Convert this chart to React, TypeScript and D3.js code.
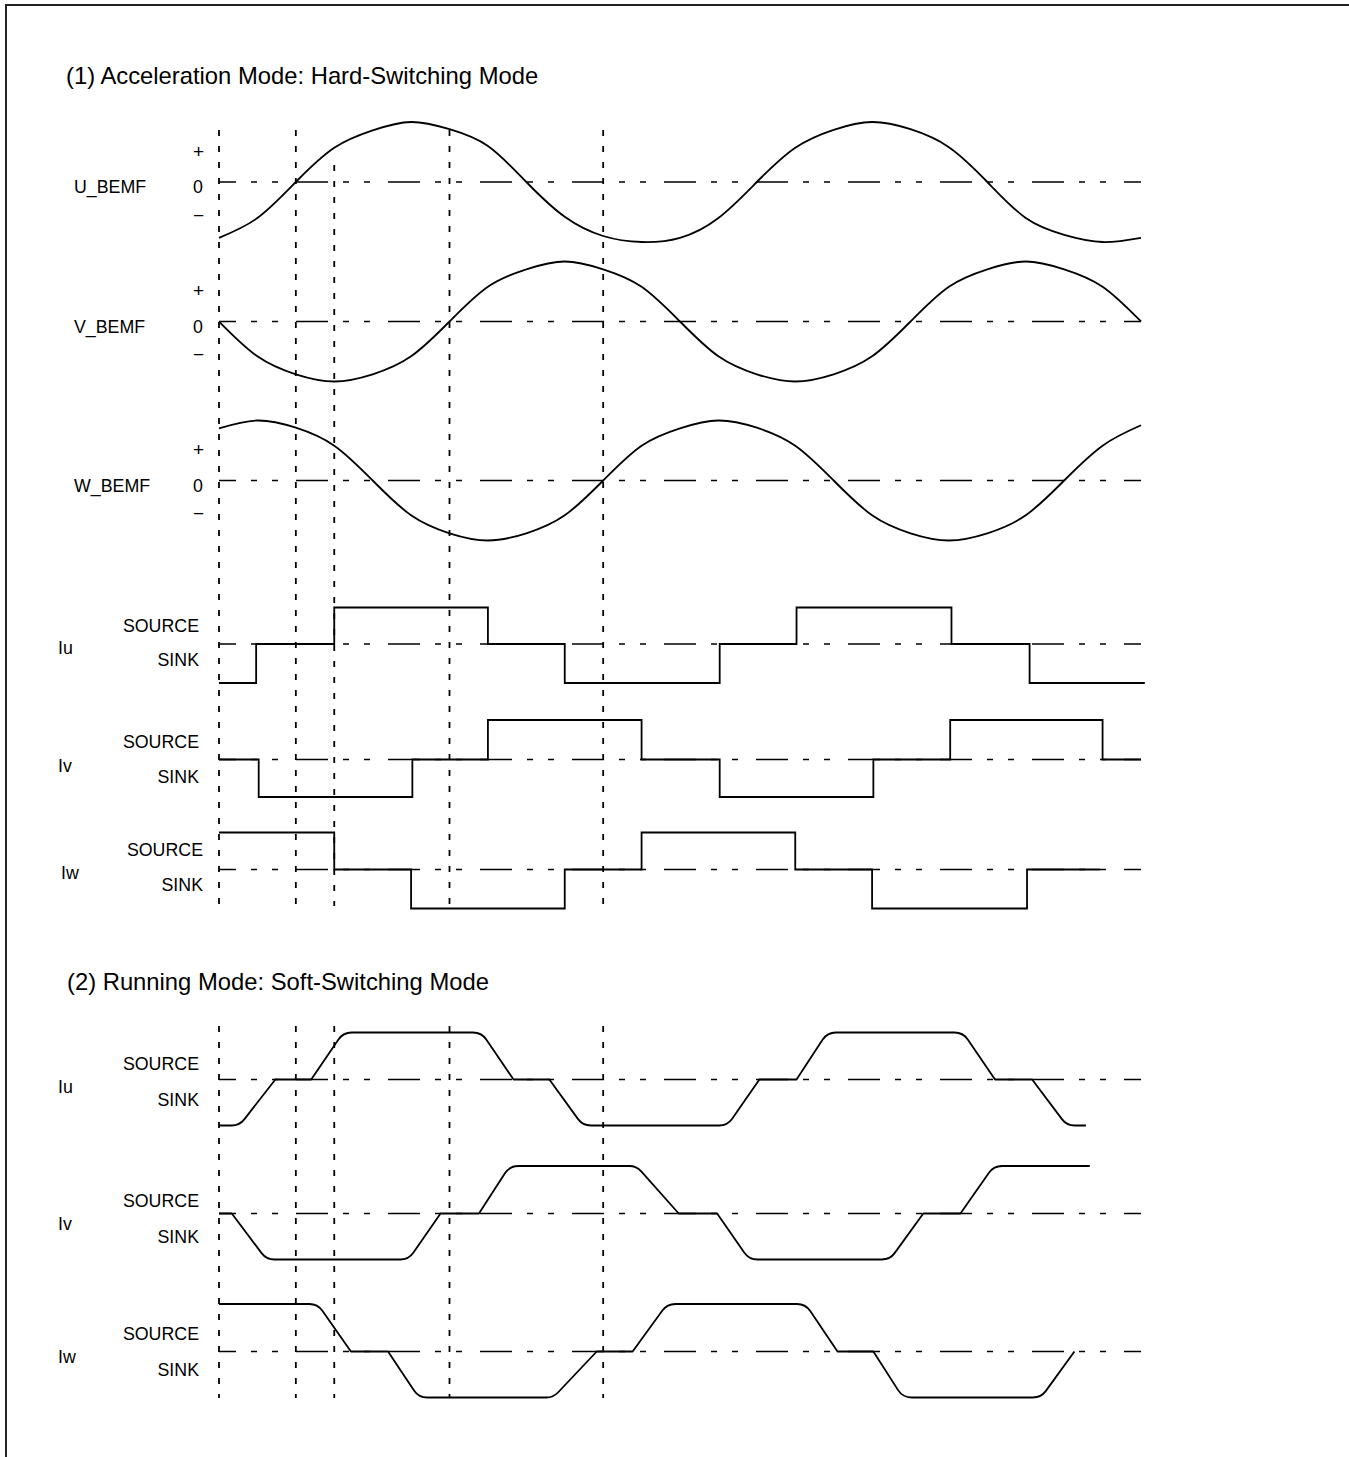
import * as d3 from "d3";
import { useEffect, useRef } from "react";

const WIDTH = 1349;
const HEIGHT = 1457;

// time axis: electrical angle in degrees
const angleDomain: [number, number] = [0, 720];
const markerAngles = [0, 60, 90, 180, 300];

// back-EMF, read every 30 deg, normalised to peak
const bemfAngles = [0, 30, 60, 90, 120, 150, 180, 210, 240, 270, 300, 330, 360, 390, 420, 450, 480, 510, 540, 570, 600, 630, 660, 690, 720];
const uBemf = [-0.93, -0.6, 0, 0.57, 0.86, 1.0, 0.88, 0.6, 0, -0.58, -0.9, -1.0, -0.93, -0.6, 0, 0.57, 0.87, 1.0, 0.88, 0.58, 0, -0.6, -0.88, -1.0, -0.93];
const vBemf = [0, -0.58, -0.88, -1.0, -0.88, -0.58, 0, 0.58, 0.87, 1.0, 0.87, 0.58, 0, -0.58, -0.88, -1.0, -0.88, -0.58, 0, 0.58, 0.87, 1.0, 0.87, 0.58, 0];
const wBemf = [0.87, 1.0, 0.88, 0.58, 0, -0.58, -0.88, -1.0, -0.88, -0.58, 0, 0.58, 0.87, 1.0, 0.88, 0.58, 0, -0.58, -0.88, -1.0, -0.88, -0.58, 0, 0.58, 0.92];

// phase currents as [angle, level]; 1 = SOURCE, 0 = floating, -1 = SINK
const iuHard: [number, number][] = [[0, -1], [29, 0], [90, 1], [210, 0], [270, -1], [391, 0], [451, 1], [572, 0], [633, -1], [723, -1]];
const ivHard: [number, number][] = [[0, 0], [31, -1], [151, 0], [210, 1], [330, 0], [391, -1], [511, 0], [571, 1], [690, 0], [720, 0]];
const iwHard: [number, number][] = [[0, 1], [90, 0], [150, -1], [270, 0], [330, 1], [450, 0], [510, -1], [631, 0], [688, 0]];

const iuSoft: [number, number][] = [[0, -1], [16, -1], [44, 0], [72, 0], [97, 1], [205, 1], [230, 0], [258, 0], [284, -1], [397, -1], [422, 0], [451, 0], [475, 1], [581, 1], [606, 0], [635, 0], [662, -1], [677, -1]];
const ivSoft: [number, number][] = [[0, 0], [10, 0], [37, -1], [148, -1], [173, 0], [203, 0], [227, 1], [326, 1], [359, 0], [389, 0], [414, -1], [524, -1], [550, 0], [579, 0], [605, 1], [680, 1]];
const iwSoft: [number, number][] = [[0, 1], [77, 1], [103, 0], [132, 0], [156, -1], [261, -1], [295, 0], [323, 0], [350, 1], [458, 1], [483, 0], [511, 0], [534, -1], [642, -1], [668, 0]];

const titles = ["(1) Acceleration Mode: Hard-Switching Mode", "(2) Running Mode: Soft-Switching Mode"];
const bemfNames = ["U_BEMF", "V_BEMF", "W_BEMF"];
const currentNames = ["Iu", "Iv", "Iw"];

const FONT = "'Liberation Sans', Arial, Helvetica, sans-serif";
const INK = "#000";

export default function App() {
  const ref = useRef<SVGSVGElement | null>(null);

  useEffect(() => {
    if (!ref.current) return;
    const svg = d3.select(ref.current);
    svg.selectAll("*").remove();

    const x = d3.scaleLinear().domain(angleDomain).range([219, 1141]);

    // frame (only top and left edges fall inside the picture)
    svg.append("line").attr("x1", 5).attr("y1", 5).attr("x2", WIDTH).attr("y2", 5)
      .attr("stroke", "#222").attr("stroke-width", 2);
    svg.append("line").attr("x1", 6).attr("y1", 5).attr("x2", 6).attr("y2", HEIGHT)
      .attr("stroke", "#222").attr("stroke-width", 2);

    const text = (s: string, tx: number, ty: number, size: number, anchor = "start") =>
      svg.append("text").attr("x", tx).attr("y", ty).attr("font-family", FONT)
        .attr("font-size", size).attr("fill", INK).attr("text-anchor", anchor)
        .attr("dominant-baseline", "central").text(s);

    text(titles[0], 66, 75, 23.8);
    text(titles[1], 67, 981, 23.8);

    // vertical dotted markers
    const markers = (top: number, bottom: number, lateTop?: number) =>
      markerAngles.forEach((a) => {
        svg.append("line")
          .attr("x1", x(a)).attr("x2", x(a))
          .attr("y1", a === 90 && lateTop ? lateTop : top).attr("y2", bottom)
          .attr("stroke", INK).attr("stroke-width", 1.8).attr("stroke-dasharray", "6,10");
      });
    markers(130, 906, 165);
    markers(1026, 1398);

    const zeroLine = (y0: number) =>
      svg.append("line").attr("x1", x(0)).attr("x2", x(720)).attr("y1", y0).attr("y2", y0)
        .attr("stroke", INK).attr("stroke-width", 1.7)
        .attr("stroke-dasharray", "32,15,6,15,6,18").attr("stroke-dashoffset", 15);

    const drawPath = (d: string | null) =>
      svg.append("path").attr("d", d ?? "").attr("fill", "none")
        .attr("stroke", INK).attr("stroke-width", 1.8).attr("stroke-linejoin", "round");

    // --- back-EMF rows
    const bemfRows = [
      { name: bemfNames[0], values: uBemf, zero: 182, amp: 60 },
      { name: bemfNames[1], values: vBemf, zero: 321.5, amp: 60 },
      { name: bemfNames[2], values: wBemf, zero: 480.5, amp: 60 },
    ];
    bemfRows.forEach((row) => {
      const y = d3.scaleLinear().domain([-1, 1]).range([row.zero + row.amp, row.zero - row.amp]);
      zeroLine(row.zero);
      const line = d3.line<number>()
        .x((_, i) => x(bemfAngles[i]))
        .y((v) => y(v))
        .curve(d3.curveNatural);
      drawPath(line(row.values));
      text(row.name, 74, row.zero + 5, 17.8);
      text("+", 198.5, row.zero - 31, 19, "middle");
      text("0", 198, row.zero + 5, 17.8, "middle");
      text("\u2212", 198.5, row.zero + 33, 19, "middle");
    });

    // --- hard-switching currents
    const hardRows = [
      { name: currentNames[0], data: iuHard, levels: [683, 644, 607.5], src: 626, snk: 660, lab: 648, right: 199, left: 58 },
      { name: currentNames[1], data: ivHard, levels: [797, 759.5, 720], src: 742, snk: 777, lab: 766, right: 199, left: 58 },
      { name: currentNames[2], data: iwHard, levels: [908.5, 869.5, 832.5], src: 850, snk: 885, lab: 873, right: 203, left: 61 },
    ];
    hardRows.forEach((row) => {
      const y = d3.scaleLinear().domain([-1, 0, 1]).range(row.levels);
      zeroLine(row.levels[1]);
      const line = d3.line<[number, number]>()
        .x((d) => x(d[0]))
        .y((d) => y(d[1]))
        .curve(d3.curveStepAfter);
      drawPath(line(row.data)).attr("stroke-linejoin", "miter");
      text("SOURCE", row.right, row.src, 17.8, "end");
      text("SINK", row.right, row.snk, 17.8, "end");
      text(row.name, row.left, row.lab, 17.8);
    });

    // --- soft-switching currents: straight ramps, rounded at the SOURCE / SINK corners
    const softRows = [
      { name: currentNames[0], data: iuSoft, levels: [1125.5, 1079.5, 1032.5], src: 1064, snk: 1100, lab: 1087 },
      { name: currentNames[1], data: ivSoft, levels: [1259.5, 1213.5, 1166], src: 1201, snk: 1237, lab: 1224 },
      { name: currentNames[2], data: iwSoft, levels: [1397.5, 1351.5, 1304], src: 1334, snk: 1370, lab: 1357 },
    ];
    softRows.forEach((row) => {
      const y = d3.scaleLinear().domain([-1, 0, 1]).range(row.levels);
      zeroLine(row.levels[1]);
      const pts = row.data.map(([a, l]) => ({ px: x(a), py: y(l), l }));
      const p = d3.path();
      p.moveTo(pts[0].px, pts[0].py);
      for (let i = 1; i < pts.length - 1; i++) {
        const c = pts[i];
        const n = pts[i + 1];
        if (c.l !== 0) p.arcTo(c.px, c.py, n.px, n.py, 16);
        else p.lineTo(c.px, c.py);
      }
      const last = pts[pts.length - 1];
      p.lineTo(last.px, last.py);
      drawPath(p.toString());
      text("SOURCE", 199, row.src, 17.8, "end");
      text("SINK", 199, row.snk, 17.8, "end");
      text(row.name, 58, row.lab, 17.8);
    });
  }, []);

  return (
    <svg
      ref={ref}
      width={WIDTH}
      height={HEIGHT}
      style={{ position: "absolute", left: 0, top: 0, background: "#fff", display: "block" }}
    />
  );
}
